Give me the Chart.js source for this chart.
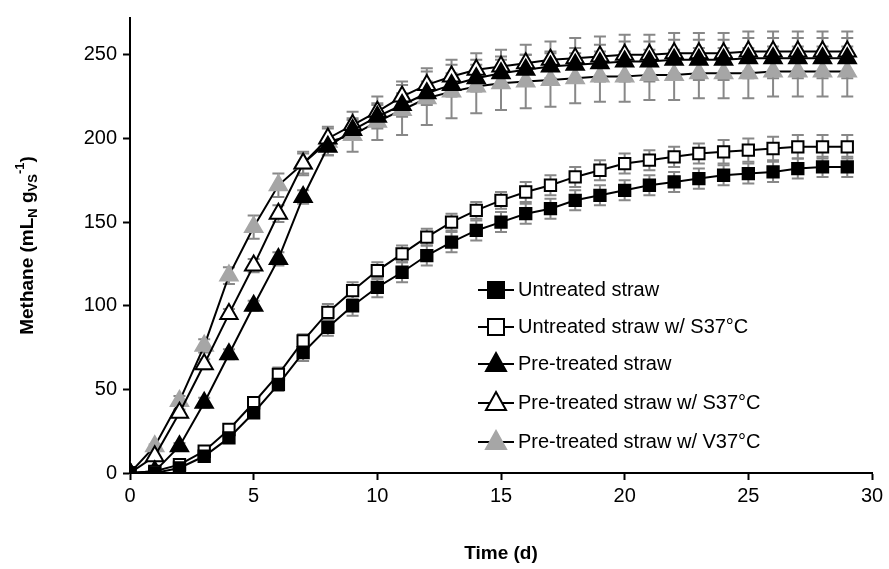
<!DOCTYPE html>
<html><head><script src="https://cdn.jsdelivr.net/npm/chart.js@4/dist/chart.umd.min.js"></script>
<style>body{margin:0;background:#fff}#w{width:889px;height:569px}</style></head>
<body><div id="w"><canvas id="c"></canvas></div>
<script>
const days=[...Array(30).keys()];
const untreated=[0,0,3,10,21,36,53,72,87,100,111,120,130,138,145,150,155,158,163,166,169,172,174,176,178,179,180,182,183,183];
const untreatedS37=[0,1,5,13,26,42,59,79,96,109,121,131,141,150,157,163,168,172,177,181,185,187,189,191,192,193,194,195,195,195];
const pretreated=[0,1,16,42,71,100,128,165,195,205,213,220,227,232,236,239,241,243,244,245,246,246,247,247,247,248,248,248,248,248];
const pretreatedS37=[0,10,36,65,95,124,155,185,200,208,216,225,232,237,241,243,245,247,248,249,250,250,251,251,251,252,252,252,252,252];
const pretreatedV37=[0,16,43,76,118,147,172,185,198,202,210,217,224,228,231,233,234,235,236,237,237,238,238,239,239,239,240,240,240,240];
const errUntreated=[0,0,1,2,3,3,4,5,5,6,6,6,6,6,6,6,6,6,6,6,6,6,6,6,6,6,6,6,6,6];
const errS37=[0,0,1,2,3,3,4,4,5,5,5,5,5,5,5,5,6,6,6,6,6,6,6,6,7,7,7,7,7,7];
const errPre=[0,0,2,3,3,3,4,4,5,6,7,7,7,7,8,8,9,9,10,11,12,12,12,12,12,12,12,12,12,12];
const errPreS37=[0,0,2,3,3,4,5,6,7,8,9,9,10,10,10,10,11,11,12,12,12,12,12,12,12,12,12,12,12,12];
const errV37=[0,1,3,4,5,7,7,7,8,10,11,15,16,16,16,16,16,16,15,15,15,15,15,15,15,15,15,15,15,15];
const yTicks=[0,50,100,150,200,250];
const labels=["Untreated straw","Untreated straw w/ S37°C","Pre-treated straw","Pre-treated straw w/ S37°C","Pre-treated straw w/ V37°C"];
const F='"Liberation Sans", Arial, sans-serif';
function ds(i,data,err,style,fill){return{label:labels[i],data:days.map((d,k)=>({x:d,y:data[k]})),err,
 borderColor:'#000',borderWidth:2,pointStyle:style,pointRadius:style==='triangle'?10:8,pointBackgroundColor:fill,
 pointBorderColor:fill==='#a6a6a6'?'#a6a6a6':'#000',pointBorderWidth:2,tension:0};}
const sets=[ds(0,untreated,errUntreated,'rect','#000'),ds(1,untreatedS37,errS37,'rect','#fff'),
 ds(2,pretreated,errPre,'triangle','#000'),ds(3,pretreatedS37,errPreS37,'triangle','#fff'),ds(4,pretreatedV37,errV37,'triangle','#a6a6a6')];
const errPlugin={id:'err',beforeDatasetsDraw(ch){const c=ch.ctx,xs=ch.scales.x,ys=ch.scales.y;c.save();c.strokeStyle='#888';c.lineWidth=2;
 ch.data.datasets.forEach(d=>{d.data.forEach((p,k)=>{const e=d.err[k];if(!e)return;const x=xs.getPixelForValue(p.x),y1=ys.getPixelForValue(p.y-e),y2=ys.getPixelForValue(p.y+e);
 c.beginPath();c.moveTo(x,y1);c.lineTo(x,y2);c.moveTo(x-6,y1);c.lineTo(x+6,y1);c.moveTo(x-6,y2);c.lineTo(x+6,y2);c.stroke();});});c.restore();}};
const legPlugin={id:'leg',afterDraw(ch){const c=ch.ctx;c.save();const ys=[290,327,364,403,442];
 ch.data.datasets.forEach((d,i)=>{const y=ys[i];c.strokeStyle='#000';c.lineWidth=2;c.beginPath();c.moveTo(478,y);c.lineTo(514,y);c.stroke();
 c.fillStyle=d.pointBackgroundColor;c.strokeStyle=d.pointBorderColor;c.beginPath();
 if(d.pointStyle==='rect'){c.rect(488,y-8,16,16);}else{c.moveTo(496,y-11);c.lineTo(506,y+7);c.lineTo(486,y+7);c.closePath();}
 c.fill();c.stroke();c.fillStyle='#000';c.font='20px '+F;c.textBaseline='middle';c.fillText(d.label,518,y);});
 // y title with subscripts / superscript
 c.translate(28,(ch.chartArea.top+ch.chartArea.bottom)/2);c.rotate(-Math.PI/2);
 const parts=[['Methane (mL',0,19],['N',5,13],[' g',0,19],['VS',5,13],['-1',-8,13],[')',0,19]];
 let w=0;parts.forEach(p=>{c.font='bold '+p[2]+'px '+F;w+=c.measureText(p[0]).width;});
 let x=-w/2;c.fillStyle='#000';c.textBaseline='middle';
 parts.forEach(p=>{c.font='bold '+p[2]+'px '+F;c.fillText(p[0],x,p[1]);x+=c.measureText(p[0]).width;});
 c.restore();}};
new Chart(document.getElementById('c'),{type:'line',data:{datasets:sets},plugins:[errPlugin,legPlugin],
options:{responsive:true,maintainAspectRatio:false,animation:false,layout:{padding:{top:18,right:17}},
plugins:{legend:{display:false},tooltip:{enabled:false}},
scales:{x:{type:'linear',min:0,max:30,ticks:{stepSize:5,color:'#000',padding:4,font:{size:20,family:F}},grid:{drawOnChartArea:false,tickLength:7,tickColor:'#000',tickWidth:2},
 border:{color:'#000',width:2},title:{display:true,text:'Time (d)',color:'#000',padding:{top:14},font:{size:19,weight:'bold',family:F}},afterFit(s){s.height=96;}},
 y:{min:0,max:272,afterBuildTicks(s){s.ticks=yTicks.map(v=>({value:v}));},ticks:{color:'#000',padding:6,font:{size:20,family:F}},grid:{drawOnChartArea:false,tickLength:7,tickColor:'#000',tickWidth:2},
 border:{color:'#000',width:2},afterFit(s){s.width=130;}}}}});
</script></body></html>
